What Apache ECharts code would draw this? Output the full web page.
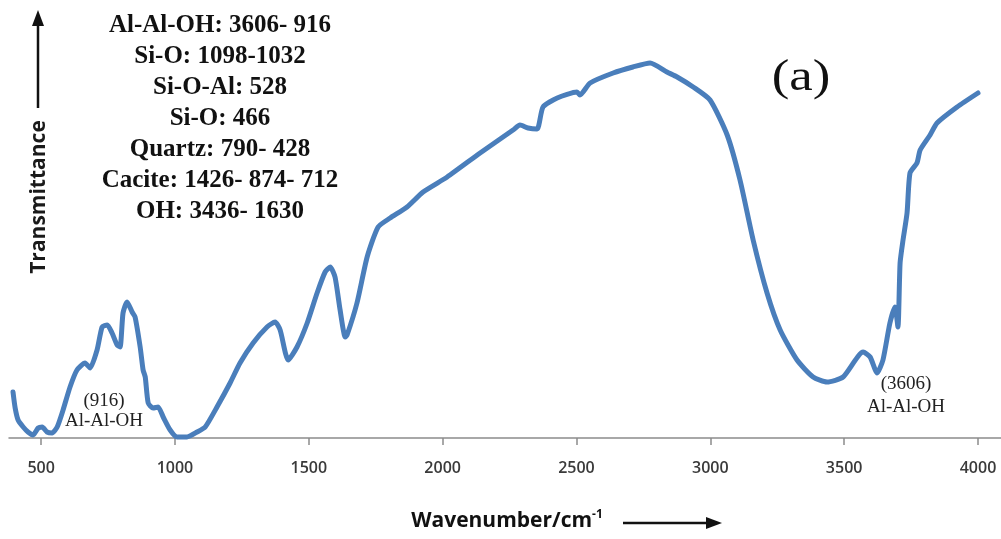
<!DOCTYPE html>
<html>
<head>
<meta charset="utf-8">
<script src="https://cdn.jsdelivr.net/npm/echarts@6/dist/echarts.min.js"></script>
<style>html,body{margin:0;padding:0;background:#fff}#c{width:1001px;height:539px}</style>
</head>
<body>
<div id="c"></div>
<script>
// Wavenumber (cm-1) and transmittance (arbitrary units)
const wavenumbers = [395,403,414,433,451,470,489,504,522,541,560,582,608,634,664,683,709,728,747,765,784,795,806,821,840,851,870,881,889,900,918,937,956,982,1008,1045,1083,1113,1157,1206,1243,1292,1344,1374,1393,1423,1456,1494,1531,1561,1580,1598,1617,1636,1643,1680,1718,1759,1804,1867,1927,2017,2140,2263,2289,2319,2353,2375,2428,2502,2513,2551,2637,2711,2775,2838,2876,2936,2999,3063,3111,3160,3212,3261,3324,3384,3436,3496,3571,3597,3623,3645,3671,3690,3701,3709,3720,3735,3746,3772,3784,3821,3847,3922,4000];
const transmittance = [46,30,18,11,6,3,10,11,6,5,11,28,51,68,75,70,88,111,113,105,93,91,125,136,126,121,91,68,61,35,30,31,21,8,1,1,6,11,31,55,75,95,111,116,108,78,91,115,145,166,171,161,128,101,103,135,181,211,220,231,246,261,285,308,313,310,309,331,340,346,343,355,365,371,375,366,361,351,338,303,258,198,145,108,78,61,56,61,86,81,65,78,115,131,111,175,198,225,265,275,288,303,315,331,345];
const tickValues = [500,1000,1500,2000,2500,3000,3500,4000];
const assignments = ["Al-Al-OH: 3606- 916","Si-O: 1098-1032","Si-O-Al: 528","Si-O: 466","Quartz: 790- 428","Cacite: 1426- 874- 712","OH: 3436- 1630"];
const peakLabels = [{text:"(916)\nAl-Al-OH", x:104, y:411, lh:20},{text:"(3606)\nAl-Al-OH", x:906, y:396, lh:23}];

const chart = echarts.init(document.getElementById('c'));
const data = wavenumbers.map((w,i)=>[w, transmittance[i]]);
const graphics = [];
graphics.push({type:'text', x:220, y:10, style:{text:assignments.join('\n'), font:'bold 25px "Liberation Serif", serif', fill:'#111', align:'center', lineHeight:31}});
graphics.push({type:'text', x:801, y:78, scaleX:1.2, style:{text:'(a)', font:'44px "Liberation Serif", serif', fill:'#111', align:'center', verticalAlign:'middle'}});
peakLabels.forEach(p=>graphics.push({type:'text', x:p.x, y:p.y, style:{text:p.text, font:'19px "Liberation Serif", serif', fill:'#222', align:'center', verticalAlign:'middle', lineHeight:p.lh}}));
graphics.push({type:'text', rotation:Math.PI/2, x:39, y:197, style:{text:'Transmittance', font:'bold 21px "Open Sans", sans-serif', fill:'#1a1a1a', align:'center', verticalAlign:'middle'}});
// arrows
graphics.push({type:'line', shape:{x1:38, y1:108, x2:38, y2:22}, style:{stroke:'#111', lineWidth:2.5}});
graphics.push({type:'polygon', shape:{points:[[38,10],[32,26],[44,26]]}, style:{fill:'#111'}});
graphics.push({type:'text', x:507, y:521, style:{rich:{m:{font:'bold 21px "Open Sans", sans-serif', fill:'#111'}, s:{font:'bold 12px "Open Sans", sans-serif', fill:'#111', verticalAlign:'top', padding:[0,0,12,0]}}, text:'{m|Wavenumber/cm}{s|-1}', align:'center', verticalAlign:'middle'}});
graphics.push({type:'line', shape:{x1:623, y1:523, x2:708, y2:523}, style:{stroke:'#111', lineWidth:2.5}});
graphics.push({type:'polygon', shape:{points:[[722,523],[706,517],[706,529]]}, style:{fill:'#111'}});

chart.setOption({
  animation:false,
  grid:{left:9, right:0, top:38, bottom:101, containLabel:false},
  xAxis:{type:'value', min:380, max:4086,
    axisLine:{show:true, lineStyle:{color:'#8c8c8c', width:1.5}},
    axisTick:{show:true, customValues:tickValues, length:7, inside:false, lineStyle:{color:'#8c8c8c', width:1.5}},
    axisLabel:{customValues:tickValues, formatter:v=>String(v), margin:22, fontSize:16, color:'#3a3a3a', fontFamily:'"Open Sans", sans-serif', fontWeight:600},
    splitLine:{show:false}},
  yAxis:{type:'value', min:0, max:400, show:false, splitLine:{show:false}},
  series:[{type:'line', data:data, showSymbol:false, symbol:'none', smooth:0.2,
    lineStyle:{color:'#4a7ebb', width:5, join:'round', cap:'round'}, z:3}],
  graphic:graphics
});
</script>
</body>
</html>
